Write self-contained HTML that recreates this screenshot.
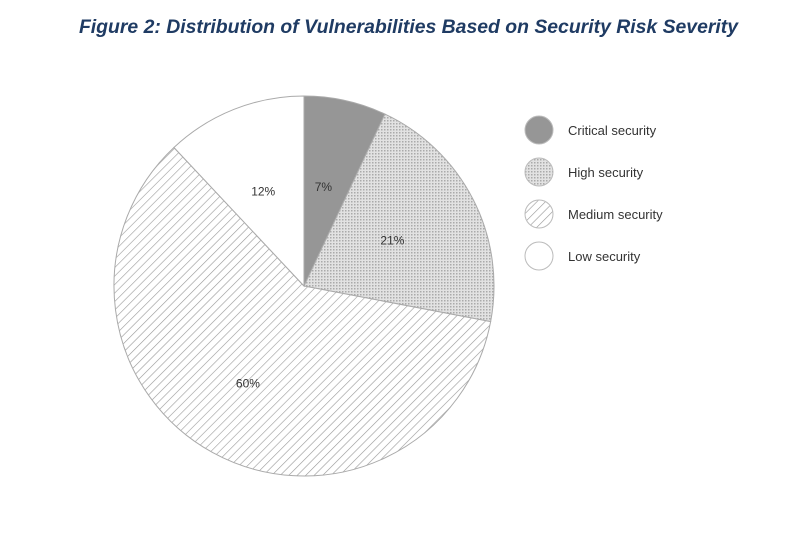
<!DOCTYPE html>
<html><head><meta charset="utf-8"><style>
body{margin:0;background:#fff;width:793px;height:533px;overflow:hidden}
#title{position:absolute;left:12px;width:793px;top:16px;text-align:center;font:italic bold 19.4px "Liberation Sans",sans-serif;color:#1f3b63}
</style></head><body>
<div id="title">Figure 2: Distribution of Vulnerabilities Based on Security Risk Severity</div>
<svg id="chart" width="793" height="533" style="position:absolute;left:0;top:0">
<defs>
<pattern id="dots" width="3" height="3" patternUnits="userSpaceOnUse"><rect width="3" height="3" fill="#e2e2e2"/><rect width="1.5" height="1.5" fill="#aaa"/></pattern>
<pattern id="hatch" width="6" height="6" patternUnits="userSpaceOnUse" patternTransform="rotate(45)"><rect width="6" height="6" fill="#fff"/><line x1="0" y1="0" x2="0" y2="6" stroke="#999" stroke-width="1.2"/></pattern>
</defs>
</svg>
<script>
const categories=["Critical security","High security","Medium security","Low security"];
const values=[7,21,60,12];
const labels=["7%","21%","60%","12%"];
const fills=["#969696","url(#dots)","url(#hatch)","#fff"];
const svg=document.getElementById('chart');
const NS="http://www.w3.org/2000/svg";
const cx=304,cy=286,r=190;
const total=values.reduce((a,b)=>a+b,0);
function pt(a,rr){return [cx+rr*Math.sin(a),cy-rr*Math.cos(a)];}
let a0=0;
values.forEach((v,i)=>{
  const a1=a0+v/total*2*Math.PI;
  const p0=pt(a0,r),p1=pt(a1,r);
  const large=(a1-a0)>Math.PI?1:0;
  const p=document.createElementNS(NS,'path');
  p.setAttribute('d',`M${cx},${cy}L${p0[0]},${p0[1]}A${r},${r} 0 ${large} 1 ${p1[0]},${p1[1]}Z`);
  p.setAttribute('fill',fills[i]);p.setAttribute('stroke','#aaa');p.setAttribute('stroke-width','1');
  
  
  svg.appendChild(p);
  const mid=(a0+a1)/2;const lr=v<30?r*0.54:r*0.58;
  const lp=pt(mid,lr);
  const t=document.createElementNS(NS,'text');
  t.setAttribute('x',lp[0]-3);t.setAttribute('y',lp[1]+5);t.setAttribute('text-anchor','middle');
  t.setAttribute('font-family','Liberation Sans, sans-serif');t.setAttribute('font-size','12');t.setAttribute('fill','#333');
  t.textContent=labels[i];
  
  
  svg.appendChild(t);
  a0=a1;
});
categories.forEach((c,i)=>{
  const y=130+i*42;
  const g=document.createElementNS(NS,'g');
  
  
  const ci=document.createElementNS(NS,'circle');
  ci.setAttribute('cx',539);ci.setAttribute('cy',y);ci.setAttribute('r',14);
  ci.setAttribute('fill',fills[i]);ci.setAttribute('stroke','#bbb');
  g.appendChild(ci);
  const t=document.createElementNS(NS,'text');
  t.setAttribute('x',568);t.setAttribute('y',y+5);
  t.setAttribute('font-family','Liberation Sans, sans-serif');t.setAttribute('font-size','13');t.setAttribute('fill','#333');
  t.textContent=c;g.appendChild(t);
  svg.appendChild(g);
});
</script>
</body></html>
